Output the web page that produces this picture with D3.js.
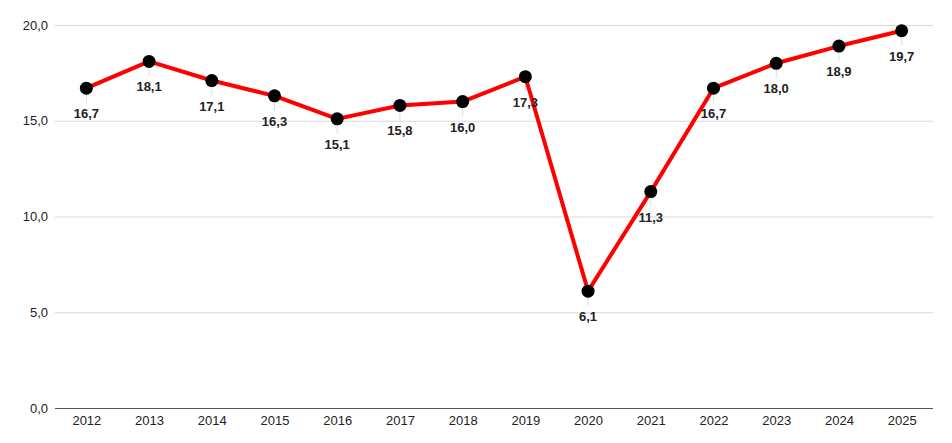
<!DOCTYPE html>
<html>
<head>
<meta charset="utf-8">
<script src="https://cdn.jsdelivr.net/npm/d3@7"></script>
<style>
	body { margin: 0; background: #fff; }
	svg { display: block; font-family: "Liberation Sans", Arial, sans-serif; }
</style>
</head>
<body>
<script>
var years = ['2012','2013','2014','2015','2016','2017','2018','2019','2020','2021','2022','2023','2024','2025'];
var values = [16.7, 18.1, 17.1, 16.3, 15.1, 15.8, 16.0, 17.3, 6.1, 11.3, 16.7, 18.0, 18.9, 19.7];
var yTicks = [0, 5, 10, 15, 20];

var w = 952;
var h = 443;
var plotLeft = 55, plotRight = 933, plotTop = 25, plotBottom = 408;

var fmt = function(v){ return v.toFixed(1).replace('.', ','); };

var data = years.map(function(y, i){ return { year: y, value: values[i] }; });

var x = d3.scalePoint().domain(years).range([plotLeft, plotRight]).padding(0.5);
var y = d3.scaleLinear().domain([0, 20]).range([plotBottom, plotTop]);

var svg = d3.select('body')
			.append('svg')
			.attr('width', w)
			.attr('height', h);

// gridlines
svg.append('g')
	.selectAll('line')
	.data(yTicks)
	.enter()
	.append('line')
	.attr('x1', plotLeft)
	.attr('x2', plotRight)
	.attr('y1', function(d){ return y(d) + 0.5; })
	.attr('y2', function(d){ return y(d) + 0.5; })
	.attr('stroke', function(d){ return d == 0 ? '#555' : '#d9d9d9'; })
	.attr('stroke-width', 1);

// y tick labels
svg.append('g')
	.selectAll('text')
	.data(yTicks)
	.enter()
	.append('text')
	.attr('x', 48)
	.attr('y', function(d){ return y(d); })
	.attr('dy', '0.35em')
	.attr('text-anchor', 'end')
	.attr('font-size', 13)
	.attr('fill', '#222')
	.text(fmt);

// x axis labels
var xAxis = d3.axisBottom(x).tickSize(0).tickPadding(8);
var gx = svg.append('g')
	.attr('transform', 'translate(0,' + plotBottom + ')')
	.call(xAxis);
gx.select('.domain').remove();
gx.selectAll('text')
	.attr('font-size', 13)
	.attr('font-family', '"Liberation Sans", Arial, sans-serif')
	.attr('fill', '#222');

// leader lines
svg.append('g')
	.selectAll('line')
	.data(data)
	.enter()
	.append('line')
	.attr('x1', function(d){ return x(d.year); })
	.attr('x2', function(d){ return x(d.year); })
	.attr('y1', function(d){ return y(d.value); })
	.attr('y2', function(d){ return y(d.value) + 15; })
	.attr('stroke', '#ddd')
	.attr('stroke-width', 1);

// the line
var path = d3.line()
			 .x(function(d){ return x(d.year); })
			 .y(function(d){ return y(d.value); });

svg.append('path')
	.datum(data)
	.attr('d', path)
	.attr('fill', 'none')
	.attr('stroke', '#ff0000')
	.attr('stroke-width', 4)
	.attr('stroke-linejoin', 'round');

// dots
svg.append('g')
	.selectAll('circle')
	.data(data)
	.enter()
	.append('circle')
	.attr('cx', function(d){ return x(d.year); })
	.attr('cy', function(d){ return y(d.value); })
	.attr('r', 6.5)
	.attr('fill', '#000');

// value labels
svg.append('g')
	.selectAll('text')
	.data(data)
	.enter()
	.append('text')
	.attr('x', function(d){ return x(d.year); })
	.attr('y', function(d){ return y(d.value) + 30; })
	.attr('text-anchor', 'middle')
	.attr('font-size', 13)
	.attr('font-weight', 'bold')
	.attr('fill', '#222')
	.text(function(d){ return fmt(d.value); });
</script>
</body>
</html>
